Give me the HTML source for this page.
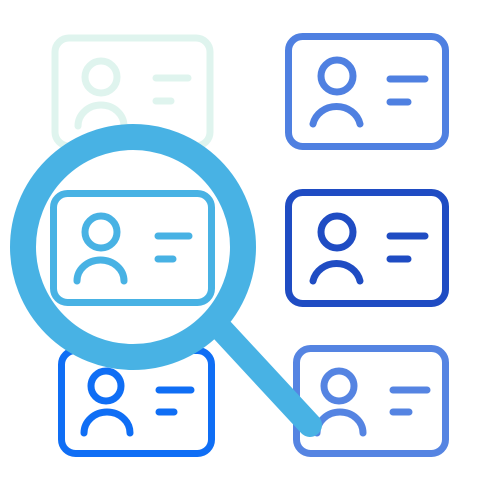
<!DOCTYPE html>
<html><head><style>html,body{margin:0;padding:0;background:#fff;width:500px;height:500px;overflow:hidden}</style></head>
<body>
<svg width="500" height="500" viewBox="0 0 500 500" xmlns="http://www.w3.org/2000/svg" fill="none" stroke-linecap="round" stroke-width="7">
<defs>
</defs>
<!-- cards: x,y,w,h,color -->
<g stroke="#dff4ee">
 <rect x="55" y="38" width="155" height="108" rx="14"/>
 <circle cx="101" cy="77" r="16"/>
 <path d="M78 126 A23 21 0 0 1 124 126"/>
 <path d="M156 78 H188 M156 101 H171"/>
</g>
<g stroke="#4f80e1">
 <rect x="288.5" y="36.5" width="157" height="110" rx="14"/>
 <circle cx="337" cy="76" r="16"/>
 <path d="M313 124 A24 22 0 0 1 360 124"/>
 <path d="M390 79 H425 M390 102 H408"/>
</g>
<g stroke="#1f4cc3">
 <rect x="288.5" y="192.5" width="157" height="111" rx="14"/>
 <circle cx="337" cy="232" r="16"/>
 <path d="M313 281 A24 22 0 0 1 360 281"/>
 <path d="M390 236 H425 M390 259 H408"/>
</g>
<g stroke="#0f6ef5">
 <rect x="61.5" y="350.5" width="150" height="103" rx="14"/>
 <circle cx="106" cy="386" r="15"/>
 <path d="M84 433 A23 21 0 0 1 130 433"/>
 <path d="M159 390 H191 M159 412 H174"/>
</g>
<g stroke="#5584e2">
 <rect x="296.5" y="348.5" width="149" height="105" rx="14"/>
 <circle cx="339" cy="386" r="15"/>
 <path d="M317 433 A23 21 0 0 1 363 433"/>
 <path d="M393 390 H427 M393 412 H409"/>
</g>
<!-- magnifier -->
<circle cx="133" cy="247" r="110" stroke="#48b2e4" stroke-width="26" fill="#fff"/>
<line x1="222" y1="330" x2="310" y2="425" stroke="#48b2e4" stroke-width="24"/>
<g stroke="#48b2e4">
 <rect x="53.5" y="193.5" width="158" height="109" rx="14"/>
 <circle cx="101" cy="232" r="16"/>
 <path d="M77 281 A23.5 21 0 0 1 124 281"/>
 <path d="M158 236 H189 M158 259 H173"/>
</g>
</svg>
</body></html>
